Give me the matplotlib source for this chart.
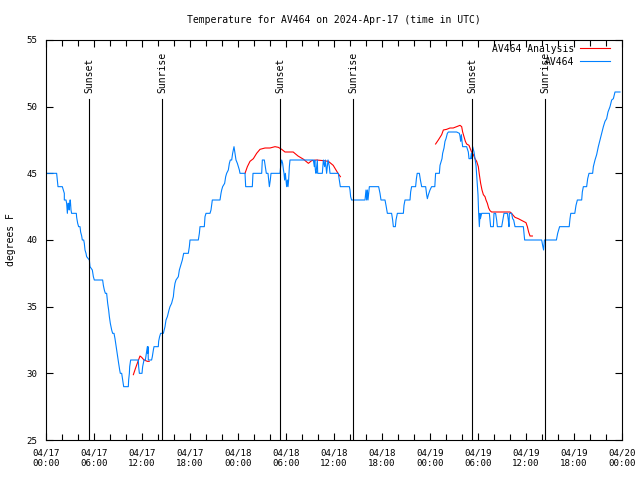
import numpy as np
import pandas as pd
import matplotlib
matplotlib.use("Agg")
import matplotlib.pyplot as plt
import matplotlib.dates as mdates

# horas desde 2024-04-17 00:00 UTC y temperatura (F) de la estacion
obs_hours = [0, 1.33, 1.5, 2.04, 2.17, 2.29, 2.29, 2.5, 2.58, 2.67, 2.75, 2.83, 2.9, 3.0, 3.04,
             3.125, 3.2, 3.79, 3.83, 3.96, 4.08, 4.25, 4.33, 4.46, 4.54, 4.71, 4.79, 4.875, 5.0,
             5.08, 5.42, 5.5, 5.79, 5.92, 6.04, 7.08, 7.17, 7.29, 7.42, 7.58, 7.71, 7.83, 7.92,
             8.04, 8.21, 8.33, 8.5, 8.625, 8.71, 8.83, 8.96, 9.08, 9.21, 9.29, 9.46, 9.58, 9.71,
             10.29, 10.33, 10.42, 10.46, 10.58, 11.54, 11.58, 11.67, 12.0, 12.08, 12.25, 12.42,
             12.54, 12.67, 12.71, 12.75, 12.79, 13.2, 13.29, 13.42, 13.5, 14.04, 14.08, 14.2,
             14.33, 14.67, 14.875, 15.0, 15.17, 15.375, 15.5, 15.7, 15.92, 16.0, 16.125, 16.25,
             16.54, 16.67, 16.79, 17.04, 17.21, 17.79, 17.92, 18.0, 19.04, 19.17, 19.25, 19.79,
             19.875, 20.0, 20.5, 20.625, 20.79, 21.75, 21.875, 21.96, 22.08, 22.33, 22.46, 22.58,
             22.79, 22.92, 23.04, 23.21, 23.33, 23.5, 23.625, 23.75, 23.92, 24.04, 24.17, 24.25,
             24.875, 24.92, 24.96, 25.79, 25.875, 26.96, 27.04, 27.29, 27.42, 27.54, 27.75, 27.83,
             27.92, 28.04, 28.125, 29.25, 29.33, 29.46, 29.58, 29.67, 29.75, 29.83, 29.92, 30.0,
             30.08, 30.17, 30.25, 30.33, 30.42, 30.5, 33.42, 33.54, 33.6, 33.67, 33.75, 33.92,
             33.96, 34.54, 34.67, 34.83, 34.92, 35.08, 35.25, 35.42, 35.5, 36.54, 36.67, 36.79,
             37.92, 38.0, 38.08, 38.2, 39.875, 40.0, 40.08, 40.17, 40.25, 40.42, 41.58, 41.75,
             41.875, 42.375, 42.5, 42.67, 43.2, 43.33, 43.42, 43.67, 43.75, 43.92, 44.67, 44.75,
             44.875, 45.5, 45.58, 45.7, 46.2, 46.3, 46.4, 46.67, 46.8, 46.96, 47.46, 47.58, 47.67,
             47.8, 48.0, 48.2, 48.6, 48.7, 49.17, 49.25, 49.5, 49.58, 49.75, 49.875, 50.0, 50.17,
             50.3, 51.33, 51.67, 51.75, 51.83, 51.92, 52.0, 52.08, 52.58, 52.79, 52.875, 53.08,
             53.17, 53.25, 53.33, 53.5, 53.625, 53.75, 53.83, 53.92, 54.0, 54.08, 54.17, 54.25,
             54.3, 54.46, 55.42, 55.5, 55.58, 55.92, 56.0, 56.2, 56.33, 56.42, 56.96, 57.1, 57.25,
             57.67, 57.79, 57.875, 57.92, 58.2, 58.33, 58.46, 58.625, 59.67, 59.75, 59.83, 61.96,
             62.08, 62.2, 62.25, 62.3, 63.8, 63.96, 64.2, 65.4, 65.5, 65.6, 66.1, 66.25, 66.42,
             66.96, 67.04, 67.17, 67.58, 67.71, 67.875, 68.33, 68.42, 68.625, 68.83, 69.04, 69.25,
             69.46, 69.67, 69.875, 70.08, 70.25, 70.5, 70.71, 70.92, 71.125, 71.75]
obs_temp = [45, 45, 44, 44, 43.75, 43.5, 43, 43, 42.75, 42, 42.75, 42.75, 42.25, 43, 43,
            42.25, 42, 42, 41.7, 41.25, 41, 41, 40.6, 40.3, 40, 40, 39.75, 39.25, 39,
            38.75, 38.5, 38, 37.75, 37.25, 37, 37, 36.6, 36.25, 36, 36, 35.25, 34.75, 34.25,
            33.75, 33.25, 33, 33, 32.6, 32.25, 31.75, 31.25, 30.75, 30.25, 30, 30, 29.5, 29,
            29, 29.5, 30, 30.5, 31, 31, 30.5, 30, 30, 30.5, 31, 31,
            31.5, 32, 31.5, 32, 31, 31, 31.25, 31.75, 32, 32, 32.4, 32.75,
            33, 33, 33.5, 34, 34.25, 34.75, 35, 35.25, 35.75, 36.25, 36.75, 37,
            37.25, 37.75, 38, 38.5, 39, 39, 39.5, 40, 40, 40.5, 41, 41,
            41.75, 42, 42, 42.25, 43, 43, 43.5, 43.75, 44, 44.25, 44.75, 45,
            45.25, 45.75, 46, 46, 46.5, 47, 46.5, 46, 45.75, 45.5, 45.25, 45,
            45, 44.5, 44, 44, 45, 45, 46, 46, 45.5, 45, 45, 44.5,
            44, 44.5, 45, 45, 45.5, 46, 45.75, 45.3, 45, 44.5, 45, 44.5,
            44, 44.5, 44, 44.5, 45.5, 46, 46, 45.5, 46, 45.25, 45, 46,
            45, 45, 46, 45.5, 46, 45, 46, 45.5, 45, 45, 44.5, 44,
            44, 43.75, 43.25, 43, 43, 43.75, 43, 43.75, 43, 44, 44, 43.5,
            43, 43, 42.6, 42, 42, 41.5, 41, 41, 41.5, 42, 42, 42.6,
            43, 43, 43.6, 44, 44, 44.6, 45, 45, 44.5, 44, 44, 43.4, 43.1,
            43.4, 43.75, 44, 44, 45, 45, 45.6, 46.1, 46.5, 46.9, 47.4, 47.6, 48,
            48.1, 48.1, 48, 47.8, 47.4, 47.9, 47.4, 47, 47, 46.6, 46.1, 46.1,
            46.5, 46.1, 47, 46.6, 46.1, 45.6, 44.9, 44.1, 43.4, 42, 41, 42,
            41.6, 42, 42, 41.5, 41, 41, 42, 42, 41.5, 41, 41, 41.5, 42,
            42, 41.5, 41, 42, 42, 41.6, 41.5, 41, 41, 40.5, 40, 40,
            39.6, 39.25, 39.6, 40, 40, 40.5, 41, 41, 41.6, 42, 42, 42.6, 43,
            43, 43.6, 44, 44, 44.6, 45, 45, 45.5, 46, 46.4, 47, 47.5,
            48, 48.5, 48.9, 49.1, 49.6, 50, 50.5, 50.6, 51.1, 51.1]

# analisis (tramos separados)
ana1_hours = [10.92, 11.2, 11.5, 11.75, 11.96, 12.25, 12.67, 12.9]
ana1_temp = [29.9, 30.4, 30.9, 31.3, 31.2, 31.0, 30.9, 30.9]
ana2_hours = [24.875, 25.17, 25.5, 25.92, 26.33, 26.75, 27.375, 28.0, 28.625, 29.04, 29.46,
              29.875, 30.9, 31.5, 32.2, 32.8, 33.2, 33.8, 34.7, 35.3, 35.9, 36.5, 36.8]
ana2_temp = [45.0, 45.5, 45.9, 46.1, 46.5, 46.8, 46.9, 46.9, 47.0, 46.95, 46.8,
             46.6, 46.6, 46.3, 46.05, 45.75, 45.95, 46.0, 45.95, 45.9, 45.6, 45.0, 44.75]
ana3_hours = [48.7, 49.04, 49.46, 49.67, 50.08, 50.5, 50.9, 51.33, 51.75, 51.96, 52.08, 52.25,
              52.42, 52.58, 52.875, 53.0, 53.2, 53.42, 53.625, 53.83, 54.04, 54.17, 54.33,
              54.5, 54.67, 54.875, 55.0, 55.17, 55.33, 55.5, 55.7, 56.33, 58.0, 58.2, 58.33,
              58.625, 59.04, 59.67, 60.0, 60.17, 60.33, 60.5, 60.8]
ana3_temp = [47.2, 47.5, 47.9, 48.25, 48.3, 48.4, 48.4, 48.5, 48.6, 48.5, 48.1, 47.75,
             47.4, 47.2, 47.1, 46.9, 46.6, 46.4, 46.1, 45.9, 45.5, 44.9, 44.25,
             43.75, 43.4, 43.25, 43.0, 42.75, 42.4, 42.2, 42.1, 42.1, 42.1, 42.0, 41.9,
             41.7, 41.6, 41.4, 41.3, 41.0, 40.6, 40.3, 40.3]

sun_hours = [5.37, 14.55, 29.3, 38.42, 53.3, 62.4]
sun_labels = ["Sunset", "Sunrise", "Sunset", "Sunrise", "Sunset", "Sunrise"]

start = pd.Timestamp("2024-04-17 00:00")
def to_time(h):
    return start + pd.to_timedelta(np.asarray(h), unit="h")

plt.rcParams['font.family'] = ['DejaVu Sans Mono']
plt.rcParams['font.size'] = 7

fig = plt.figure(figsize=(6.4, 4.8), dpi=100)
ax = fig.add_axes([46 / 640, 40 / 480, 576 / 640, 400 / 480])

blue = '#0080ff'
red = '#ff0000'
lw = 0.8
ax.plot(to_time(ana1_hours), ana1_temp, color=red, lw=lw, label='AV464 Analysis')
ax.plot(to_time(ana2_hours), ana2_temp, color=red, lw=lw)
ax.plot(to_time(ana3_hours), ana3_temp, color=red, lw=lw)
ax.plot(to_time(obs_hours), obs_temp, color=blue, lw=lw, label='AV464')

for h, lab in zip(sun_hours, sun_labels):
    t = to_time(h)
    ax.axvline(t, ymin=0, ymax=(50.55 - 25) / 30, color='black', lw=lw)
    ax.text(t, 51.0, lab, rotation=90, ha='center', va='bottom', fontsize=7)

ax.set_xlim(start, start + pd.Timedelta(hours=72))
ax.set_ylim(25, 55)
ax.set_yticks([25, 30, 35, 40, 45, 50, 55])
ax.xaxis.set_major_locator(mdates.HourLocator(byhour=[0, 6, 12, 18]))
ax.xaxis.set_minor_locator(mdates.HourLocator(byhour=range(0, 24, 2)))
ax.xaxis.set_major_formatter(mdates.DateFormatter('%m/%d\n%H:%M'))
ax.tick_params(axis='both', which='both', direction='in', top=True, right=True,
               width=lw, labelsize=6.6)
ax.tick_params(axis='both', which='major', length=5, pad=6)
ax.tick_params(axis='x', which='minor', length=4)
for s in ax.spines.values():
    s.set_linewidth(lw)

ax.set_ylabel('degrees F', labelpad=8)
ax.set_title('Temperature for AV464 on 2024-Apr-17 (time in UTC)', fontsize=7, pad=12)

ax.legend(loc='upper right', bbox_to_anchor=(0.986, 1.0), markerfirst=False,
          frameon=False, handlelength=3.1, borderaxespad=0, labelspacing=0.3,
          handletextpad=0.6)

fig.savefig('out.png', dpi=100)
